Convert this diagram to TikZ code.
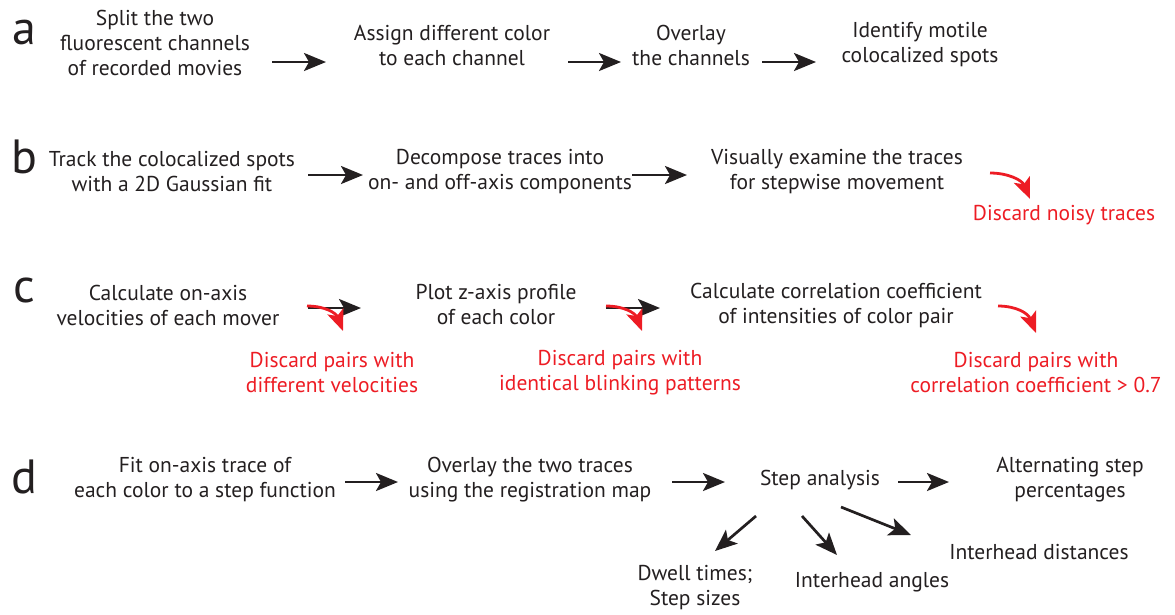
\documentclass[tikz,border=0pt]{standalone}
\usepackage{fontspec}
\setmainfont{PT Sans}
\usetikzlibrary{arrows.meta}
\definecolor{txt}{RGB}{35,31,32}
\definecolor{rd}{RGB}{237,28,36}
\tikzset{
  lbl/.style={font=\fontsize{21.5}{25}\selectfont, text=txt, align=center, inner sep=0pt},
  rlbl/.style={lbl, text=rd},
  letter/.style={font=\fontsize{48}{48}\selectfont, text=txt, inner sep=0pt},
  arr/.style={draw=txt, line width=2.7pt, -{Stealth[length=22pt,width=18pt,inset=5pt]}},
  rarr/.style={draw=rd, line width=2.8pt, -{Stealth[length=21pt,width=17pt,inset=5pt]}},
}
\begin{document}
\begin{tikzpicture}[x=1pt,y=-1pt]
\useasboundingbox (0,0) rectangle (1175,614);
% row a
\node[letter] (la) at (24,32) {a};
\node[lbl] (a1) at (155,43) {Split the two\\fluorescent channels\\of recorded movies};
\node[lbl] (a2) at (452,45) {Assign different color\\to each channel};
\node[lbl] (a3) at (691,45) {Overlay\\the channels};
\node[lbl] (a4) at (920,45) {Identify motile\\colocalized spots};
\coordinate (a12s) at (272,62); \coordinate (a12e) at (326,62);
\coordinate (a23s) at (568,62); \coordinate (a23e) at (621,62);
\coordinate (a34s) at (762,62); \coordinate (a34e) at (816,62);
\draw[arr] (a12s) -- (a12e);
\draw[arr] (a23s) -- (a23e);
\draw[arr] (a34s) -- (a34e);
% row b
\node[letter] (lb) at (24,157) {b};
\node[lbl] (b1) at (172,172) {Track the colocalized spots\\with a 2D Gaussian fit};
\node[lbl] (b2) at (500,172) {Decompose traces into\\on- and off-axis components};
\node[lbl] (b3) at (837,172) {Visually examine the traces\\for stepwise movement};
\node[rlbl] (b4) at (1064,215) {Discard noisy traces};
\coordinate (b12s) at (308,175); \coordinate (b12e) at (363,175);
\coordinate (b23s) at (632,175); \coordinate (b23e) at (687,175);
\coordinate (b34s) at (990,173); \coordinate (b34e) at (1030,199);
\draw[arr] (b12s) -- (b12e);
\draw[arr] (b23s) -- (b23e);
\draw[rarr] (b34s) .. controls (1008,173) and (1022,180) .. (b34e);
% row c
\node[letter] (lc) at (24,290) {c};
\node[lbl] (c1) at (168,305) {Calculate on-axis\\velocities of each mover};
\node[lbl] (c2) at (496,305) {Plot z-axis profile\\of each color};
\node[lbl] (c3) at (836,305) {Calculate correlation coefficient\\of intensities of color pair};
\node[rlbl] (c1r) at (332,373) {Discard pairs with\\different velocities};
\node[rlbl] (c2r) at (620,373) {Discard pairs with\\identical blinking patterns};
\node[rlbl] (c3r) at (1036,373) {Discard pairs with\\correlation coefficient > 0.7};
\coordinate (c12s) at (308,308); \coordinate (c12e) at (361,308);
\coordinate (c23s) at (606,308); \coordinate (c23e) at (660,308);
\coordinate (c1rs) at (307,306); \coordinate (c1re) at (343,331);
\coordinate (c2rs) at (606,306); \coordinate (c2re) at (642,331);
\coordinate (c3rs) at (998,306); \coordinate (c3re) at (1036,333);
\draw[arr] (c12s) -- (c12e);
\draw[arr] (c23s) -- (c23e);
\draw[rarr] (c1rs) .. controls (325,306) and (336,313) .. (c1re);
\draw[rarr] (c2rs) .. controls (624,306) and (635,313) .. (c2re);
\draw[rarr] (c3rs) .. controls (1016,306) and (1028,313) .. (c3re);
% row d
\node[letter] (ld) at (24,477) {d};
\node[lbl] (d1) at (205,480) {Fit on-axis trace of\\each color to a step function};
\node[lbl] (d2) at (530,480) {Overlay the two traces\\using the registration map};
\node[lbl] (d3) at (820,480) {Step analysis};
\node[lbl] (d4) at (1070,480) {Alternating step\\percentages};
\node[lbl] (d5) at (695,588) {Dwell times;\\Step sizes};
\node[lbl] (d6) at (872,582) {Interhead angles};
\node[lbl] (d7) at (1039,552) {Interhead distances};
\coordinate (d12s) at (345,482); \coordinate (d12e) at (398,482);
\coordinate (d23s) at (672,482); \coordinate (d23e) at (725,482);
\coordinate (d34s) at (898,482); \coordinate (d34e) at (949,482);
\coordinate (d5s) at (756,516); \coordinate (d5e) at (715,551);
\coordinate (d6s) at (802,516); \coordinate (d6e) at (837,555);
\coordinate (d7s) at (841,507); \coordinate (d7e) at (911,535);
\draw[arr] (d12s) -- (d12e);
\draw[arr] (d23s) -- (d23e);
\draw[arr] (d34s) -- (d34e);
\draw[arr] (d5s) -- (d5e);
\draw[arr] (d6s) -- (d6e);
\draw[arr] (d7s) -- (d7e);
\end{tikzpicture}
\end{document}
